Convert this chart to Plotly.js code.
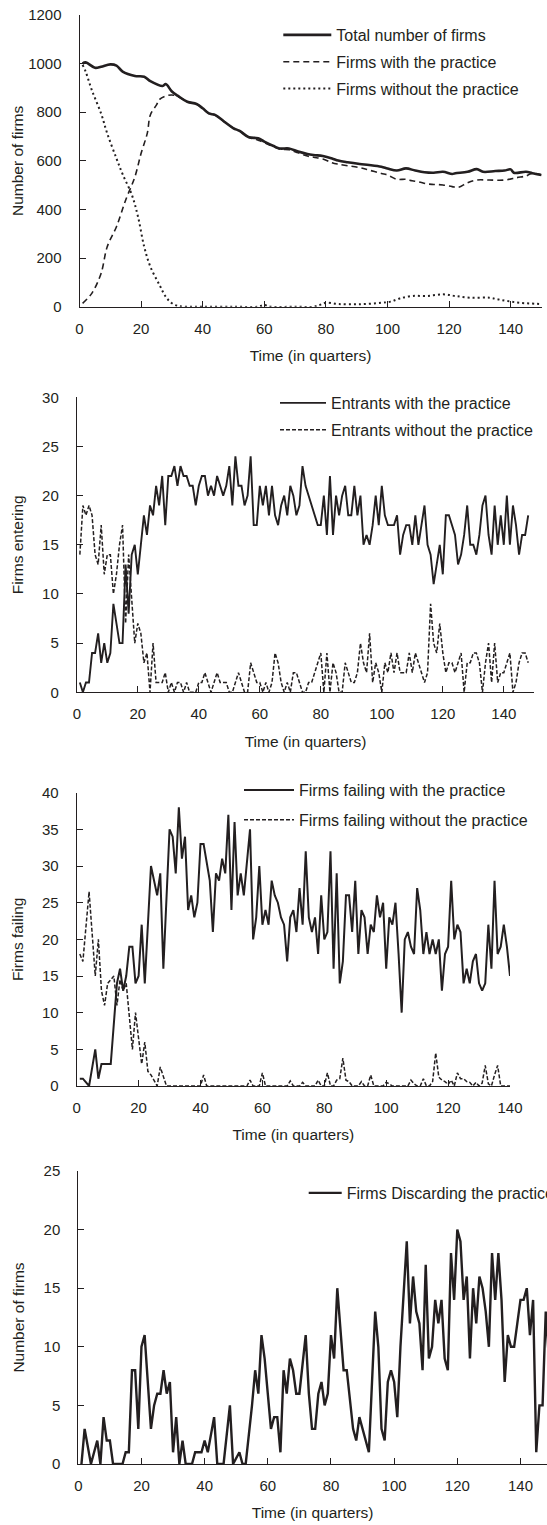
<!DOCTYPE html>
<html><head><meta charset="utf-8">
<script src="https://cdn.plot.ly/plotly-3.0.1.min.js"></script>
<style>html,body{margin:0;padding:0;background:#fff;overflow:hidden}#chart{width:547px;height:1525px}</style>
</head><body><div id="chart"></div>
<script>
// ---------- Panel 1: number of firms ----------
const p1TotalT = [1,2,5,7,10,12,14,18,21,23,27,28,30,32,35,38,40,42,44,47,50,52,55,58,60,63,65,68,71,74,76,79,82,84,87,91,94,98,100,103,106,109,112,115,118,121,122,126,129,131,135,138,140,141,145,147,150];
const p1Total = [1000,1005,983,987,997,992,967,949,946,928,908,916,885,867,843,834,816,795,789,761,734,723,697,693,679,661,651,651,638,628,624,620,610,601,594,587,583,576,569,560,569,560,553,551,555,546,549,555,566,555,558,560,565,551,555,549,542];
const p1WithT = [1,4,7,9,12,15,18,20,22,23,25,26,28,30,32,35,38,40,42,44,47,50,52,55,58,60,63,65,68,71,74,76,79,82,84,87,91,94,98,100,103,106,108,110,113,115,118,121,123,126,129,133,138,142,145,147,150];
const p1With = [14,55,137,247,329,439,535,631,713,789,830,853,867,871,864,843,834,816,795,789,761,734,723,697,685,675,658,648,646,633,620,615,608,592,586,580,572,562,548,542,524,524,518,514,505,503,501,494,491,510,521,521,521,531,538,549,542];
const p1WithoutT = [1,2,4,7,9,12,14,17,19,21,23,26,28,30,32,35,40,50,58,60,62,70,76,78,80,84,91,98,101,104,108,113,118,122,127,133,136,139,143,150];
const p1Without = [995,967,891,795,713,610,545,460,370,247,165,89,41,14,3,0,0,0,0,7,0,0,0,7,16,11,10,16,21,34,44,44,51,44,37,37,30,23,16,11];

// ---------- Panel 2: firms entering (t = 1..148) ----------
const p2EntWith = [1,0,1,1,4,4,6,3,5,3, 4,9,7,5,5,13,8,14,15,12, 15,18,16,19,18,21,19,22,17,22, 22,23,21,23,22,22,21,21,19,21, 22,22,20,21,20,22,21,20,21,23, 19,24,21,21,19,20,24,17,17,21, 19,21,18,21,18,17,19,20,18,21, 20,18,19,23,21,20,19,18,17,17, 20,16,22,16,20,18,20,21,18,18, 21,18,20,15,16,15,17,20,17,21, 18,17,17,17,18,14,16,17,17,15, 18,15,17,19,15,14,11,13,15,12, 18,18,17,16,13,14,16,19,15,15, 14,16,19,20,16,14,19,15,18,15, 20,15,19,17,14,16,16,18];
const p2EntWithout = [14,19,18,19,18,14,13,17,12,14, 14,10,12,15,17,7,14,9,5,7, 6,3,4,0,5,1,1,1,2,0, 1,0,1,1,0,1,0,0,0,1, 1,2,1,0,1,2,1,1,1,0, 0,1,2,1,0,0,3,2,1,1, 0,1,0,1,4,3,1,0,1,0, 2,2,1,0,0,1,1,2,3,4, 0,4,0,3,2,0,0,3,2,1, 1,2,5,3,2,6,1,3,2,0, 3,2,4,2,4,2,2,2,4,2, 4,3,2,1,2,9,5,4,7,4, 2,3,3,2,3,4,0,3,3,4, 4,3,0,3,5,1,5,1,2,2, 3,4,0,1,3,4,4,3];
const p2T = p2EntWith.map((_, i) => i + 1);

// ---------- Panel 3: firms failing ----------
const p3WithT = [1,2,4,6,7,8,11,13,14,15,16,17,18,19,20,21,22,24,25,26,27,28,30,31,32,33,34,35,36,37,38,39,40,41,43,44,45,46,47,48,49,50,51,52,53,54,56,57,58,59,60,61,62,63,64,65,66,67,68,69,70,71,72,73,74,75,76,77,78,79,80,81,82,83,84,85,86,87,88,89,90,91,92,93,94,95,96,97,98,99,100,101,102,103,104,105,106,107,108,109,110,111,112,113,114,115,116,117,118,119,120,121,122,123,124,125,126,127,128,129,130,131,132,133,134,135,136,137,138,139,140];
const p3With = [1,1,0,5,1,3,3, 14,16,13,15,19,19,14,15,22,14, 30,28,26,29,16, 35,34,29,38,31,34,24,26,23,25,33,33, 28,21,29,28,31,29,37,24,36,26,29,26, 35,20,23,30,22,24,22,28,26,25, 23,22,17,23,24,21,27,22,32,23, 21,23,18,26,20,21,32,16,29,14, 17,26,26,21,28,18,24,23,18,22, 21,26,23,25,16,23,22,25,18,10, 20,21,19,18,27,24,18,21,18,20, 18,20,13,18,19,28,20,22,21,14, 16,14,17,18,14,13,14,22,16,28, 18,19,22,19,15];
const p3WithoutT = [1,2,4,6,7,8,9,10,12,13,14,15,16,17,18,19,21,22,23,24,26,27,29,40,41,42,55,56,57,59,60,61,68,69,70,72,73,74,77,78,79,80,81,82,83,84,85,86,87,88,89,91,92,93,94,95,96,99,100,101,102,107,108,109,110,111,112,113,114,115,116,117,118,119,120,121,122,123,124,125,126,127,128,129,130,131,132,133,134,135,136,137,140];
const p3Without = [18,17,26.5,15,20,13,11,14,15,11,14.5,13,14,9,5,10,3,6,2,1.5,0,2.6,0,0,1.5,0,0,0.8,0,0,1.8,0,0,0.7,0,0,0.5,0,0,0.8,0,0,1.8,0,0,0.8,1,3.8,0.8,0.6,0,0,0.6,0,0,1.5,0,0,0.5,0.3,0,0,0.8,0.3,0,0,1,0,0,0.6,4.5,1.2,0.8,0.6,0.2,0.8,0,1.8,1,1,0.6,0.5,0,0.5,0,0.4,2.8,0.3,0,1.5,2.8,0,0];

// ---------- Panel 4: firms discarding the practice ----------
const p4T = [1,2,4,6,7,8,9,10,11,14, 15,16,17,18,19,20,21,23,24,25, 26,27,28,29,30,31,32,33,34,36, 37,39,40,41,43,44,46,48,49,51, 52,53,55,56,57,58,59,61,62,63, 64,65,66,67,68,69,70,72,73,74, 75,76,77,78,79,80,81,82,84,85, 87,88,89,91,92,94,95,96,97,98, 99,100,101,102,104,105,106,107,108,109, 110,111,112,113,114,115,116,117,118,119, 120,121,122,123,124,125,126,127,128,129, 130,131,132,133,134,135,136,137,138,139, 140,141,142,143,144,145,146,147,148,149];
const p4Discard = [0,3,0,2,0,4,2,2,0,0, 1,1,8,8,3,10,11,3,5,6, 6,8,6,7,1,4,0,2,0,0, 1,1,2,1,4,0,0,5,0,1, 0,0,5,8,6,11,9,3,4,4, 1,8,6,9,8,6,6,11,6,3, 3,6,7,5,6,11,9,15,8,8, 3,2,4,2,1,13,10,3,2,7, 8,7,4,10,19,12,16,13,12,8, 17,9,10,14,12,14,9,8,18,14, 20,19,14,16,9,15,12,16,15,13, 10,18,14,18,14,7,11,10,10,12, 14,14,15,11,14,1,5,5,13,9];

// ---------- labels ----------
const xTitle = 'Time (in quarters)';
const yTitles = ['Number of firms', 'Firms entering', 'Firms failing', 'Number of firms'];
const names1 = ['Total number of firms', 'Firms with the practice', 'Firms without the practice'];
const names2 = ['Entrants with the practice', 'Entrants without the practice'];
const names3 = ['Firms failing with the practice', 'Firms failing without the practice'];
const names4 = ['Firms Discarding the practice'];

const INK = '#231f20';
const FONT = '"Liberation Sans", Arial, Helvetica, sans-serif';
const W = 547, H = 1525;
const fx = p => p / W;
const fy = p => 1 - p / H;

function tr(x, y, name, xa, ya, leg, line, shape) {
  return {x: x, y: y, name: name, type: 'scatter', mode: 'lines', xaxis: xa, yaxis: ya,
    legend: leg, legendgroup: name, line: Object.assign({color: INK, shape: shape || 'linear'}, line),
    hoverinfo: 'skip'};
}

const traces = [
  tr(p1TotalT, p1Total, names1[0], 'x', 'y', 'legend', {width: 2.6}, 'spline'),
  tr(p1WithT, p1With, names1[1], 'x', 'y', 'legend', {width: 1.6, dash: '6px,4px'}, 'spline'),
  tr(p1WithoutT, p1Without, names1[2], 'x', 'y', 'legend', {width: 2, dash: '2px,3px'}, 'spline'),
  tr(p2T, p2EntWith, names2[0], 'x2', 'y2', 'legend2', {width: 1.9}),
  tr(p2T, p2EntWithout, names2[1], 'x2', 'y2', 'legend2', {width: 1.5, dash: '4px,2px'}),
  tr(p3WithT, p3With, names3[0], 'x3', 'y3', 'legend3', {width: 2}),
  tr(p3WithoutT, p3Without, names3[1], 'x3', 'y3', 'legend3', {width: 1.5, dash: '4px,2px'}),
  tr(p4T, p4Discard, names4[0], 'x4', 'y4', 'legend4', {width: 2.4})
];

function xAxis(dom, range, anchor) {
  return {domain: dom, range: range, anchor: anchor, showline: true, linecolor: INK, linewidth: 1,
    ticks: 'inside', ticklen: 6, tickwidth: 1, tickcolor: INK, tick0: 0, dtick: 20,
    showgrid: false, zeroline: false, tickfont: {family: FONT, size: 15, color: INK},
    ticklabelstandoff: 8,
    title: {text: xTitle, font: {family: FONT, size: 15.5, color: INK}, standoff: 14}, fixedrange: true};
}
function yAxis(dom, range, dtick, anchor, title, standoff) {
  return {domain: dom, range: range, anchor: anchor, showline: true, linecolor: INK, linewidth: 1,
    ticks: 'inside', ticklen: 6, tickwidth: 1, tickcolor: INK, tick0: 0, dtick: dtick,
    showgrid: false, zeroline: false, tickfont: {family: FONT, size: 15, color: INK},
    ticklabelstandoff: 14,
    title: {text: title, font: {family: FONT, size: 15.5, color: INK}, standoff: standoff}, fixedrange: true};
}
function legendBox(xp, yp, iw, gap) {
  return {x: fx(xp), xanchor: 'left', y: fy(yp), yanchor: 'top', bgcolor: 'rgba(0,0,0,0)', borderwidth: 0,
    font: {family: FONT, size: 16, color: INK}, itemwidth: iw, traceorder: 'grouped', tracegroupgap: gap};
}

const layout = {
  width: W, height: H, autosize: false,
  margin: {l: 0, r: 0, t: 0, b: 0, pad: 0, autoexpand: false},
  paper_bgcolor: '#fff', plot_bgcolor: 'rgba(0,0,0,0)',
  font: {family: FONT, color: INK},
  showlegend: true,
  xaxis: xAxis([fx(79.5), fx(541.5)], [0, 150], 'y'),
  yaxis: yAxis([fy(306.7), fy(15)], [0, 1200], 200, 'x', yTitles[0], 0),
  xaxis2: xAxis([fx(76.8), fx(534.3)], [0, 150], 'y2'),
  yaxis2: yAxis([fy(692.3), fy(397.3)], [0, 30], 5, 'x2', yTitles[1], 14),
  xaxis3: xAxis([fx(76.7), fx(510)], [0, 140], 'y3'),
  yaxis3: yAxis([fy(1086), fy(792.7)], [0, 40], 5, 'x3', yTitles[2], 14),
  xaxis4: xAxis([fx(78.3), 1], [0, 148.4], 'y4'),
  yaxis4: yAxis([fy(1464), fy(1171)], [0, 25], 5, 'x4', yTitles[3], 15),
  legend: legendBox(278.3, 18, 48, 3),
  legend2: legendBox(275, 386, 46, 3),
  legend3: legendBox(239, 773, 50, 6),
  legend4: legendBox(303.7, 1176, 33, 3)
};

Plotly.newPlot('chart', traces, layout, {staticPlot: true, displayModeBar: false});
</script></body></html>
